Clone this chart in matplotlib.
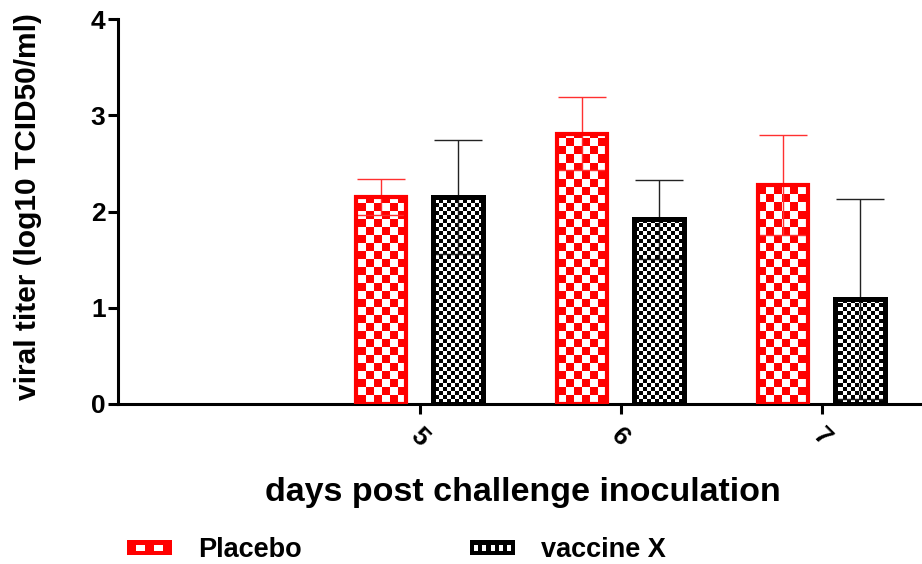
import numpy as np
import matplotlib.pyplot as plt
from matplotlib.patches import Patch, Rectangle
from matplotlib.legend_handler import HandlerBase
from matplotlib.colors import ListedColormap

plt.rcParams['font.family'] = ['Liberation Sans', 'DejaVu Sans']
plt.rcParams['font.weight'] = 'bold'

days = [5, 6, 7]
placebo = [2.15, 2.81, 2.28]
placebo_sd = [0.19, 0.38, 0.52]
vaccine = [2.15, 1.92, 1.09]
vaccine_sd = [0.59, 0.41, 1.04]
series_names = ['Placebo', 'vaccine X']

fig = plt.figure(figsize=(9.22, 5.64), dpi=100)
ax = fig.add_axes([0.128, 0.2837, 0.872, 0.6826])

x = np.array(days, dtype=float)
w = 0.25
off = 0.19

b1 = ax.bar(x - off, placebo, w, facecolor='none', edgecolor='#ff0000', linewidth=3, zorder=3)
b2 = ax.bar(x + off, vaccine, w, facecolor='none', edgecolor='black', linewidth=3.6, zorder=3)

ax.errorbar(x - off, placebo, yerr=placebo_sd, fmt='none', ecolor='#ff3030',
            elinewidth=1, capsize=17, capthick=1, zorder=2.5)
ax.errorbar(x + off, vaccine, yerr=vaccine_sd, fmt='none', ecolor='#222222',
            elinewidth=1, capsize=17, capthick=1, zorder=2.5)

ax.set_xlim(3.5, 7.5)
ax.set_ylim(0, 4)


# checkerboard texture inside the bars
def checker(bars, cell_px, color):
    fig.canvas.draw()
    bb = ax.get_window_extent()
    nx = int(bb.width / cell_px) + 1
    ny = int(bb.height / cell_px) + 1
    arr = (np.add.outer(np.arange(ny), np.arange(nx)) % 2).astype(float)
    x0, x1 = ax.get_xlim()
    y0, y1 = ax.get_ylim()
    ext = [x0, x0 + nx * cell_px * (x1 - x0) / bb.width,
           y1 - ny * cell_px * (y1 - y0) / bb.height, y1]
    cmap = ListedColormap(['white', color])
    for bar in bars:
        im = ax.imshow(arr, extent=ext, cmap=cmap, interpolation='nearest',
                       aspect='auto', zorder=2, origin='upper')
        im.set_clip_path(bar)


checker(b1, 8, '#ff0000')
checker(b2, 4, 'black')
ax.set_xlim(3.5, 7.5)
ax.set_ylim(0, 4)

for s in ['top', 'right']:
    ax.spines[s].set_visible(False)
for s in ['left', 'bottom']:
    ax.spines[s].set_linewidth(2.2)

ax.set_xticks(days)
ax.set_xticklabels([str(d) for d in days], rotation=-45, ha='center', va='center',
                   rotation_mode='anchor', fontsize=19, fontweight='bold')
ax.set_yticks([0, 1, 2, 3, 4])
ax.set_yticklabels(['0', '1', '2', '3', '4'], fontsize=19, fontweight='bold')
ax.tick_params(axis='both', width=2.2, length=7)
ax.tick_params(axis='x', pad=17)
ax.tick_params(axis='y', pad=2)

ax.set_xlabel('days post challenge inoculation', fontsize=24.5, fontweight='bold')
ax.xaxis.set_label_coords(0.504, -0.19)
ax.set_ylabel('viral titer (log10 TCID50/ml)', fontsize=21.5, fontweight='bold')
ax.yaxis.set_label_coords(-0.094, 0.514)


class PatternHandler(HandlerBase):
    def __init__(self, color, ncell):
        super().__init__()
        self.color = color
        self.ncell = ncell

    def create_artists(self, legend, orig_handle, xdescent, ydescent, width, height,
                       fontsize, trans):
        arts = [Rectangle((-xdescent, -ydescent), width, height, facecolor=self.color,
                          edgecolor='none', transform=trans)]
        cw = width / self.ncell
        ch = height * 0.4
        for i in range(1, self.ncell - 1, 2):
            arts.append(Rectangle((-xdescent + i * cw, -ydescent + height * 0.3), cw, ch,
                                  facecolor='white', edgecolor='none', transform=trans))
        return arts


h1 = Patch(facecolor='#ff0000')
h2 = Patch(facecolor='black')
fig.legend([h1, h2], series_names, loc='center left', bbox_to_anchor=(0.138, 0.024),
           ncol=2, frameon=False, handlelength=1.67, handleheight=0.48,
           handletextpad=0.96, columnspacing=6.2, borderpad=0, borderaxespad=0,
           prop={'weight': 'bold', 'size': 19.5},
           handler_map={h1: PatternHandler('#ff0000', 5), h2: PatternHandler('black', 11)})

fig.savefig('out.png', dpi=100)
